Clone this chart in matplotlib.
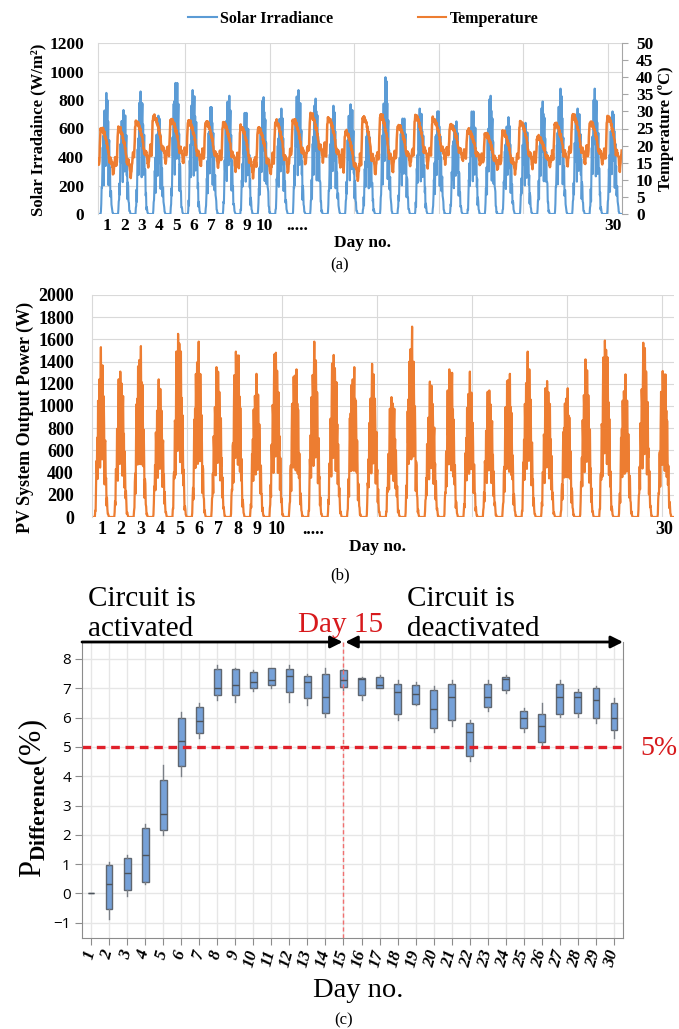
import numpy as np
import matplotlib.pyplot as plt
from matplotlib.lines import Line2D

plt.rcParams['font.family'] = 'Liberation Serif'
plt.rcParams['mathtext.fontset'] = 'custom'
plt.rcParams['mathtext.rm'] = 'Liberation Serif'
plt.rcParams['mathtext.bf'] = 'Liberation Serif:bold'
plt.rcParams['mathtext.it'] = 'Liberation Serif:italic'

# ---------------- data ----------------
days = list(range(1, 31))

# daily peaks read from (a) and (b)
irr_peak = [850, 730, 860, 690, 920, 870, 750, 830, 710, 820,
            740, 870, 810, 760, 770, 600, 960, 670, 740, 720,
            650, 720, 830, 680, 640, 790, 880, 740, 880, 720]
temp_max = [25, 25, 27, 28.5, 27.5, 27, 27, 26.5, 25.5, 25,
            27, 27.5, 29, 28, 24, 28.3, 28.8, 25.9, 28.6, 27.8,
            25.9, 24.4, 23.4, 23.9, 26.9, 22.5, 26.4, 28.8, 26.9, 28.3]
temp_min = [11.5, 11, 14, 15, 15, 14, 13.5, 13, 11, 11.5,
            12, 14.5, 15.5, 14, 10, 11.5, 12, 14, 14, 15,
            15.5, 14.5, 13, 12, 13.5, 14, 14, 14.5, 14.5, 13]
pv_peak = [1530, 1310, 1540, 1240, 1650, 1580, 1350, 1490, 1290, 1480,
           1330, 1580, 1460, 1350, 1380, 1080, 1715, 1220, 1330, 1310,
           1140, 1290, 1490, 1225, 1160, 1420, 1590, 1285, 1570, 1315]

# half-hourly daily shapes (48 values per day)
irr_shape = [0, 0, 0, 0, 0, 0, 0, 0,
             0.05, 0.12, 0.22, 0.33, 0.44, 0.55, 0.64, 0.72, 0.79, 0.85,
             0.90, 0.94, 0.97, 0.99, 1.00, 1.00, 0.99, 0.97, 0.94, 0.90,
             0.85, 0.79, 0.72, 0.64, 0.55, 0.45, 0.36, 0.27, 0.19, 0.12,
             0.07, 0.04, 0.02, 0.01,
             0, 0, 0, 0, 0, 0]
temp_shape = [0.35, 0.30, 0.25, 0.20, 0.35, 0.60, 0.85, 0.95, 1.00, 0.98,
              0.96, 1.00, 0.97, 0.95, 0.98, 0.94, 0.92, 0.90, 0.88, 0.85,
              0.82, 0.78, 0.75, 0.72, 0.70, 0.66, 0.62, 0.58, 0.52, 0.45,
              0.38, 0.32, 0.28, 0.30, 0.33, 0.32, 0.30, 0.28, 0.25, 0.20,
              0.12, 0.05, 0.00, 0.05, 0.15, 0.22, 0.30, 0.35]
# cloud / measurement fluctuation factors (cycled)
irr_fluct = [1.0, 0.55, 0.9, 0.3, 0.8, 0.95, 0.6, 0.85, 0.4, 0.7, 1.0, 0.65, 0.8]
pv_fluct = [1.0, 0.6, 0.85, 0.35, 0.95, 0.7, 0.45, 0.9, 0.75, 0.3, 0.8]
temp_jitter = [0.0, 0.6, -0.5, 0.4, -0.7, 0.3, -0.4, 0.7, -0.6, 0.2, -0.3]

# box plot statistics (c)
whis_lo = [0, -0.86, -0.07, 0.33, 2.00, 4.00, 5.31, 6.59, 6.52, 6.90,
           7.01, 6.52, 6.42, 6.02, 6.93, 6.61, 7.00, 5.93, 6.43, 5.52,
           5.73, 4.51, 6.22, 6.83, 5.51, 5.05, 6.01, 6.03, 5.83, 5.31]
box_q1 = [0, -0.52, 0.12, 0.40, 2.16, 4.34, 5.48, 6.76, 6.76, 7.01,
          7.10, 6.88, 6.66, 6.16, 7.05, 6.76, 7.02, 6.12, 6.45, 5.66,
          5.91, 4.70, 6.37, 6.95, 5.66, 5.17, 6.12, 6.16, 5.97, 5.57]
box_med = [0, 0.31, 0.70, 1.30, 2.72, 5.19, 5.90, 7.01, 7.11, 7.20,
           7.30, 7.41, 7.22, 6.72, 7.30, 7.33, 7.10, 6.89, 6.81, 6.30,
           6.70, 5.50, 6.70, 7.31, 5.99, 5.73, 6.70, 6.70, 6.61, 5.99]
box_q3 = [0, 0.98, 1.20, 2.25, 3.86, 5.97, 6.36, 7.66, 7.66, 7.55,
          7.68, 7.66, 7.41, 7.50, 7.61, 7.35, 7.40, 7.15, 7.10, 6.94,
          7.15, 5.80, 7.16, 7.40, 6.24, 6.14, 7.15, 6.86, 7.01, 6.50]
whis_hi = [0, 1.07, 1.30, 2.37, 4.37, 6.18, 6.50, 7.81, 7.69, 7.61,
           7.70, 7.78, 7.50, 7.69, 7.66, 7.39, 7.45, 7.30, 7.20, 7.07,
           7.30, 5.91, 7.30, 7.44, 6.33, 6.50, 7.30, 6.99, 7.07, 6.67]

# ---------------- build series ----------------
n = len(irr_shape)
t, irr, temp, pv = [], [], [], []
k = 0
for d in range(30):
    f_irr = np.array([irr_fluct[(k + i) % len(irr_fluct)] for i in range(n)])
    f_pv = np.array([pv_fluct[(k + i) % len(pv_fluct)] for i in range(n)])
    jit = np.array([temp_jitter[(k + i) % len(temp_jitter)] for i in range(n)])
    s = np.array(irr_shape)
    a = s * f_irr
    a = a / a.max() * irr_peak[d]
    p = s * f_pv
    p = p / p.max() * pv_peak[d]
    tt = temp_min[d] + (temp_max[d] - temp_min[d]) * np.array(temp_shape) + jit
    t.extend(d + np.arange(n) / n)
    irr.extend(a)
    pv.extend(p)
    temp.extend(tt)
    k += n

W, H = 679, 1029
fig = plt.figure(figsize=(W / 100, H / 100), dpi=100)


def rect(l, t_, r, b):
    return [l / W, 1 - b / H, (r - l) / W, (b - t_) / H]


blue = '#5b9bd5'
orange = '#ed7d31'
grid_c = '#d9d9d9'

day_pos = [i + 0.5 for i in range(10)] + [11.4, 29.5]
day_lab = [str(i + 1) for i in range(10)] + ['.....', '30']

# ---------------- (a) ----------------
ax1 = fig.add_axes(rect(98, 43, 622, 214))
ax1.plot(t, irr, color=blue, lw=1.5)
ax1.set_xlim(0, 30)
ax1.set_ylim(0, 1200)
ax1.set_yticks(range(0, 1201, 200))
ax1.set_xticks(day_pos)
ax1.set_xticklabels(day_lab, fontsize=12.5, fontweight='bold')
ax1.set_xticks(np.arange(4.98, 30, 4.84), minor=True)
ax1.grid(axis='y', color=grid_c, lw=0.8)
ax1.grid(axis='x', which='minor', color=grid_c, lw=0.8)
ax1.tick_params(axis='x', which='both', length=0, pad=3)
ax1.tick_params(axis='y', length=0, pad=10, labelsize=12.5)
for lb in ax1.get_yticklabels():
    lb.set_fontweight('bold')
for s in ['top', 'right', 'bottom']:
    ax1.spines[s].set_visible(False)
ax1.spines['left'].set_color(grid_c)
ax1.set_ylabel('Solar Irradaince (W/m²)', fontsize=12, fontweight='bold')
ax1.yaxis.set_label_coords(-0.098, 0.49)
ax1.set_xlabel('Day no.', fontsize=12.5, fontweight='bold')
ax1.xaxis.set_label_coords(0.504, -0.12)

ax1b = ax1.twinx()
ax1b.plot(t, temp, color=orange, lw=1.8)
ax1b.set_ylim(0, 50)
ax1b.set_yticks(range(0, 51, 5))
ax1b.tick_params(axis='y', length=4, color='#a6a6a6', pad=6, labelsize=12.5)
for lb in ax1b.get_yticklabels():
    lb.set_fontweight('bold')
for s in ['top', 'left', 'bottom']:
    ax1b.spines[s].set_visible(False)
ax1b.spines['right'].set_color('#a6a6a6')
ax1b.set_ylabel('Temperature (\u00baC)', fontsize=12, fontweight='bold')
ax1b.yaxis.set_label_coords(1.068, 0.5)

handles = [Line2D([], [], color=blue, lw=1.5), Line2D([], [], color=orange, lw=1.5)]
fig.legend(handles, ['Solar Irradiance', 'Temperature'], loc='center',
           bbox_to_anchor=(363 / W, 1 - 19 / H), ncol=2, frameon=False,
           prop={'size': 11.5, 'weight': 'bold'}, handlelength=1.8,
           handletextpad=0.2, columnspacing=5.3)

fig.text(340 / W, 1 - 265 / H, '(a)', ha='center', va='center', fontsize=12)

# ---------------- (b) ----------------
ax2 = fig.add_axes(rect(92, 295, 674, 517))
ax2.plot(t, pv, color=orange, lw=1.6)
ax2.set_xlim(0, 30)
ax2.set_ylim(0, 2000)
ax2.set_yticks(range(0, 2001, 200))
ax2.set_xticks(day_pos)
ax2.set_xticklabels(day_lab, fontsize=13, fontweight='bold')
ax2.set_xticks(np.arange(4.9, 30, 4.9), minor=True)
ax2.grid(axis='y', color=grid_c, lw=0.8)
ax2.grid(axis='x', which='minor', color=grid_c, lw=0.8)
ax2.tick_params(axis='x', which='both', length=0, pad=3)
ax2.tick_params(axis='y', length=0, pad=13, labelsize=13)
for lb in ax2.get_yticklabels():
    lb.set_fontweight('bold')
for s in ['top', 'right', 'bottom']:
    ax2.spines[s].set_visible(False)
ax2.spines['left'].set_color(grid_c)
ax2.set_ylabel('PV System Output Power (W)', fontsize=13, fontweight='bold')
ax2.yaxis.set_label_coords(-0.1, 0.45)
ax2.set_xlabel('Day no.', fontsize=12.5, fontweight='bold')
ax2.xaxis.set_label_coords(0.49, -0.1)

fig.text(340 / W, 1 - 575 / H, '(b)', ha='center', va='center', fontsize=12)

# ---------------- (c) ----------------
ax3 = fig.add_axes(rect(82, 642, 623, 938))
stats = []
for i in range(30):
    stats.append({'med': box_med[i], 'q1': box_q1[i], 'q3': box_q3[i],
                  'whislo': whis_lo[i], 'whishi': whis_hi[i], 'fliers': []})
ax3.bxp(stats, positions=days, widths=0.38, patch_artist=True, showcaps=False,
        boxprops=dict(facecolor='#76a1d8', edgecolor='#5f6670', lw=1),
        medianprops=dict(color='#4d545c', lw=1),
        whiskerprops=dict(color='#7a7f86', lw=1))
ax3.set_xlim(0.5, 30.5)
ax3.set_ylim(-1.52, 8.58)
ax3.set_yticks(range(-1, 9))
ax3.set_xticks(days)
ax3.set_xticklabels([str(d) for d in days], rotation=75, ha='right', va='center',
                    rotation_mode='anchor', fontsize=12.5, fontweight='bold',
                    fontstyle='italic')
ax3.set_axisbelow(True)
ax3.grid(True, color='#e6e6e6', lw=1)
ax3.tick_params(axis='x', length=5, color='#8c8c8c', pad=4)
ax3.tick_params(axis='y', length=5, color='#8c8c8c', pad=3)
for lb in ax3.get_yticklabels():
    lb.set_fontfamily('Open Sans')
    lb.set_fontsize(11)
ax3.spines['top'].set_visible(False)
for s in ['left', 'right', 'bottom']:
    ax3.spines[s].set_color('#8c8c8c')

ax3.axhline(5, color='#e0202a', lw=2.4, linestyle=(0, (2.6, 1.7)))
ax3.axvline(15, color='#f07070', lw=1, linestyle=(0, (3, 2)))

ax3.annotate('', xy=(14.95, 1.0), xytext=(0.5, 1.0),
             xycoords=('data', 'axes fraction'), textcoords=('data', 'axes fraction'),
             arrowprops=dict(arrowstyle='-|>', mutation_scale=18, lw=2, color='k',
                             shrinkA=0, shrinkB=0))
ax3.annotate('', xy=(30.5, 1.0), xytext=(15.1, 1.0),
             xycoords=('data', 'axes fraction'), textcoords=('data', 'axes fraction'),
             arrowprops=dict(arrowstyle='<|-|>', mutation_scale=18, lw=2, color='k',
                             shrinkA=0, shrinkB=0))

ax3.set_ylabel(r'$\mathrm{P}_{\mathbf{Difference}}\mathrm{(\%)}$', fontsize=22)
ax3.yaxis.set_label_coords(-0.06, 0.47)

fig.text(88 / W, 1 - 606 / H, 'Circuit is', fontsize=21, va='baseline')
fig.text(88 / W, 1 - 636 / H, 'activated', fontsize=21, va='baseline')
fig.text(407 / W, 1 - 606 / H, 'Circuit is', fontsize=21, va='baseline')
fig.text(407 / W, 1 - 636 / H, 'deactivated', fontsize=21, va='baseline')
fig.text(298 / W, 1 - 632 / H, 'Day 15', fontsize=21, va='baseline', color='#d7191c')
fig.text(640 / W, 1 - 755 / H, '5%', fontsize=20, va='baseline', color='#d7191c')
fig.text(313 / W, 1 - 997 / H, 'Day no.', fontsize=20.5, va='baseline')
fig.text(344 / W, 1 - 1020 / H, '(c)', ha='center', va='center', fontsize=12)

fig.savefig('out.png', dpi=100)
